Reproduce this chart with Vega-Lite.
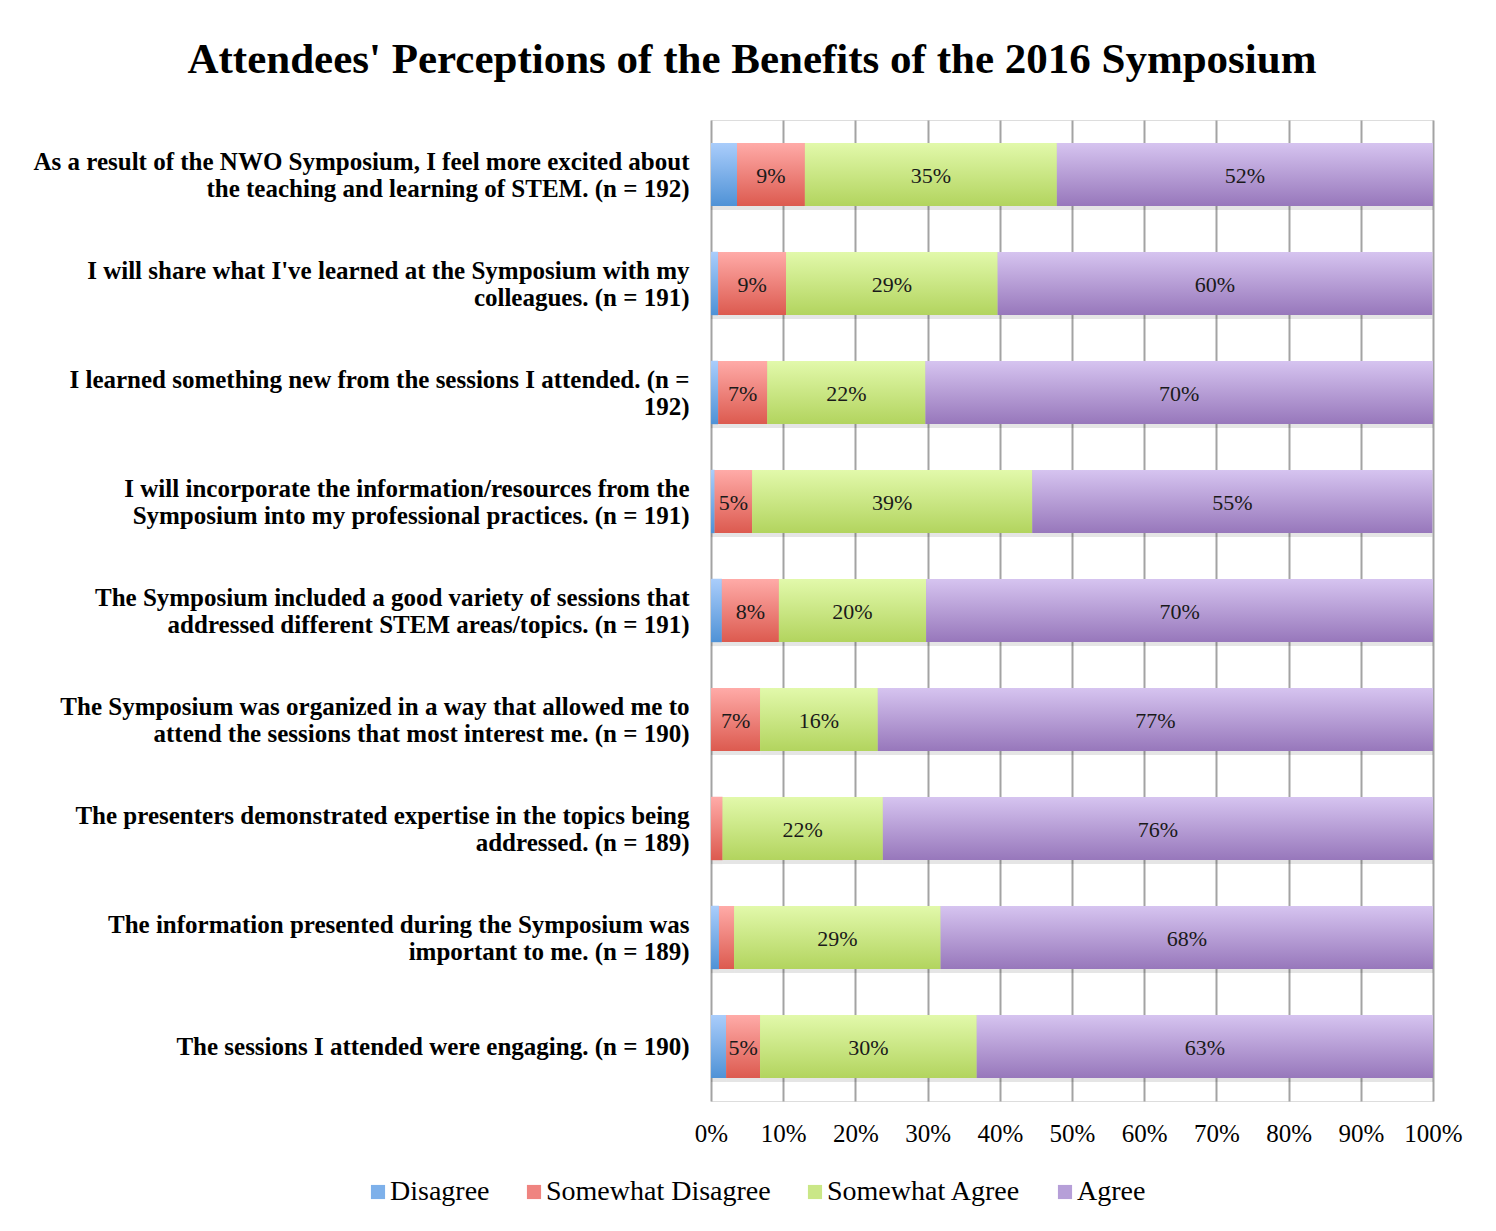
{
  "$schema": "https://vega.github.io/schema/vega-lite/v6.json",
  "autosize": {"type": "none"},
  "width": 722,
  "height": 981,
  "padding": {"left": 711, "top": 120, "right": 63, "bottom": 130},
  "background": "white",
  "title": {
    "text": "Attendees' Perceptions of the Benefits of the 2016 Symposium",
    "font": "Liberation Serif",
    "fontSize": 43,
    "fontWeight": "bold",
    "color": "black",
    "anchor": "middle",
    "dx": -320,
    "offset": 4,
    "baseline": "alphabetic"
  },
  "data": {
    "values": [
      {"q": "As a result of the NWO Symposium, I feel more excited about|the teaching and learning of STEM. (n = 192)", "response": "Disagree", "k": 1, "pct": 0.036},
      {"q": "As a result of the NWO Symposium, I feel more excited about|the teaching and learning of STEM. (n = 192)", "response": "Somewhat Disagree", "k": 2, "pct": 0.094},
      {"q": "As a result of the NWO Symposium, I feel more excited about|the teaching and learning of STEM. (n = 192)", "response": "Somewhat Agree", "k": 3, "pct": 0.349},
      {"q": "As a result of the NWO Symposium, I feel more excited about|the teaching and learning of STEM. (n = 192)", "response": "Agree", "k": 4, "pct": 0.521},
      {"q": "I will share what I've learned at the Symposium with my|colleagues. (n = 191)", "response": "Disagree", "k": 1, "pct": 0.010},
      {"q": "I will share what I've learned at the Symposium with my|colleagues. (n = 191)", "response": "Somewhat Disagree", "k": 2, "pct": 0.094},
      {"q": "I will share what I've learned at the Symposium with my|colleagues. (n = 191)", "response": "Somewhat Agree", "k": 3, "pct": 0.293},
      {"q": "I will share what I've learned at the Symposium with my|colleagues. (n = 191)", "response": "Agree", "k": 4, "pct": 0.602},
      {"q": "I learned something new from the sessions I attended. (n =|192)", "response": "Disagree", "k": 1, "pct": 0.010},
      {"q": "I learned something new from the sessions I attended. (n =|192)", "response": "Somewhat Disagree", "k": 2, "pct": 0.068},
      {"q": "I learned something new from the sessions I attended. (n =|192)", "response": "Somewhat Agree", "k": 3, "pct": 0.219},
      {"q": "I learned something new from the sessions I attended. (n =|192)", "response": "Agree", "k": 4, "pct": 0.703},
      {"q": "I will incorporate the information/resources from the|Symposium into my professional practices. (n = 191)", "response": "Disagree", "k": 1, "pct": 0.005},
      {"q": "I will incorporate the information/resources from the|Symposium into my professional practices. (n = 191)", "response": "Somewhat Disagree", "k": 2, "pct": 0.052},
      {"q": "I will incorporate the information/resources from the|Symposium into my professional practices. (n = 191)", "response": "Somewhat Agree", "k": 3, "pct": 0.388},
      {"q": "I will incorporate the information/resources from the|Symposium into my professional practices. (n = 191)", "response": "Agree", "k": 4, "pct": 0.554},
      {"q": "The Symposium included a good variety of sessions that|addressed different STEM areas/topics. (n = 191)", "response": "Disagree", "k": 1, "pct": 0.015},
      {"q": "The Symposium included a good variety of sessions that|addressed different STEM areas/topics. (n = 191)", "response": "Somewhat Disagree", "k": 2, "pct": 0.079},
      {"q": "The Symposium included a good variety of sessions that|addressed different STEM areas/topics. (n = 191)", "response": "Somewhat Agree", "k": 3, "pct": 0.204},
      {"q": "The Symposium included a good variety of sessions that|addressed different STEM areas/topics. (n = 191)", "response": "Agree", "k": 4, "pct": 0.702},
      {"q": "The Symposium was organized in a way that allowed me to|attend the sessions that most interest me. (n = 190)", "response": "Disagree", "k": 1, "pct": 0.0},
      {"q": "The Symposium was organized in a way that allowed me to|attend the sessions that most interest me. (n = 190)", "response": "Somewhat Disagree", "k": 2, "pct": 0.068},
      {"q": "The Symposium was organized in a way that allowed me to|attend the sessions that most interest me. (n = 190)", "response": "Somewhat Agree", "k": 3, "pct": 0.163},
      {"q": "The Symposium was organized in a way that allowed me to|attend the sessions that most interest me. (n = 190)", "response": "Agree", "k": 4, "pct": 0.769},
      {"q": "The presenters demonstrated expertise in the topics being|addressed. (n = 189)", "response": "Disagree", "k": 1, "pct": 0.0},
      {"q": "The presenters demonstrated expertise in the topics being|addressed. (n = 189)", "response": "Somewhat Disagree", "k": 2, "pct": 0.016},
      {"q": "The presenters demonstrated expertise in the topics being|addressed. (n = 189)", "response": "Somewhat Agree", "k": 3, "pct": 0.222},
      {"q": "The presenters demonstrated expertise in the topics being|addressed. (n = 189)", "response": "Agree", "k": 4, "pct": 0.762},
      {"q": "The information presented during the Symposium was|important to me. (n = 189)", "response": "Disagree", "k": 1, "pct": 0.011},
      {"q": "The information presented during the Symposium was|important to me. (n = 189)", "response": "Somewhat Disagree", "k": 2, "pct": 0.021},
      {"q": "The information presented during the Symposium was|important to me. (n = 189)", "response": "Somewhat Agree", "k": 3, "pct": 0.286},
      {"q": "The information presented during the Symposium was|important to me. (n = 189)", "response": "Agree", "k": 4, "pct": 0.682},
      {"q": "The sessions I attended were engaging. (n = 190)", "response": "Disagree", "k": 1, "pct": 0.021},
      {"q": "The sessions I attended were engaging. (n = 190)", "response": "Somewhat Disagree", "k": 2, "pct": 0.047},
      {"q": "The sessions I attended were engaging. (n = 190)", "response": "Somewhat Agree", "k": 3, "pct": 0.300},
      {"q": "The sessions I attended were engaging. (n = 190)", "response": "Agree", "k": 4, "pct": 0.632}
    ]
  },
  "transform": [
    {"stack": "pct", "groupby": ["q"], "sort": [{"field": "k", "order": "ascending"}], "as": ["x0", "x1"]},
    {"calculate": "(datum.x0 + datum.x1) / 2", "as": "xm"}
  ],
  "encoding": {
    "y": {
      "field": "q",
      "type": "nominal",
      "sort": null,
      "scale": {"paddingInner": 0.42, "paddingOuter": 0.21},
      "axis": {
        "title": null,
        "ticks": false,
        "domain": false,
        "grid": false,
        "labelPadding": 22,
        "labelFont": "Liberation Serif",
        "labelFontWeight": "bold",
        "labelFontSize": 25,
        "labelLineHeight": 27,
        "labelColor": "black",
        "labelLimit": 800,
        "labelOffset": {"condition": {"test": "indexof(datum.value, '|') >= 0", "value": -13}, "value": 0},
        "labelExpr": "split(datum.value, '|')"
      }
    }
  },
  "layer": [
    {
      "mark": {"type": "bar", "yOffset": 4, "color": "#000000", "opacity": 0.1},
      "encoding": {
        "x": {"field": "x0", "type": "quantitative"},
        "x2": {"field": "x1"}
      }
    },
    {
      "mark": {"type": "bar"},
      "encoding": {
        "x": {
          "field": "x0",
          "type": "quantitative",
          "scale": {"domain": [0, 1], "nice": false},
          "axis": {
            "title": null,
            "values": [0, 0.1, 0.2, 0.3, 0.4, 0.5, 0.6, 0.7, 0.8, 0.9, 1],
            "format": ".0%",
            "grid": true,
            "gridColor": "#a3a3a3",
            "gridWidth": 2,
            "ticks": false,
            "domain": false,
            "labelOverlap": false,
            "labelFlush": false,
            "labelPadding": 20,
            "labelFont": "Liberation Serif",
            "labelFontSize": 25,
            "labelColor": "black"
          }
        },
        "x2": {"field": "x1"},
        "color": {
          "field": "response",
          "type": "nominal",
          "scale": {
            "domain": ["Disagree", "Somewhat Disagree", "Somewhat Agree", "Agree"],
            "range": ["#7db0ea", "#ef8480", "#cae787", "#b69fd8"]
          },
          "legend": {
            "title": null,
            "orient": "none",
            "legendX": -347,
            "legendY": 1058,
            "direction": "horizontal",
            "columns": 4,
            "symbolType": "square",
            "symbolSize": 200,
            "symbolStrokeWidth": 0,
            "labelFont": "Liberation Serif",
            "labelFontSize": 28,
            "labelColor": "black",
            "labelLimit": 400,
            "labelOffset": -2,
            "columnPadding": 30
          }
        }
      }
    },
    {
      "mark": {"type": "bar"},
      "encoding": {
        "x": {"field": "x0", "type": "quantitative"},
        "x2": {"field": "x1"},
        "fill": {
          "condition": [
            {"test": "datum.response === 'Disagree'", "value": {"gradient": "linear", "x1": 0, "y1": 0, "x2": 0, "y2": 1, "stops": [{"offset": 0, "color": "#aacdfb"}, {"offset": 1, "color": "#4f92d6"}]}},
            {"test": "datum.response === 'Somewhat Disagree'", "value": {"gradient": "linear", "x1": 0, "y1": 0, "x2": 0, "y2": 1, "stops": [{"offset": 0, "color": "#ffaba8"}, {"offset": 1, "color": "#dc5a4f"}]}},
            {"test": "datum.response === 'Somewhat Agree'", "value": {"gradient": "linear", "x1": 0, "y1": 0, "x2": 0, "y2": 1, "stops": [{"offset": 0, "color": "#e2f9ab"}, {"offset": 1, "color": "#b2d45e"}]}}
          ],
          "value": {"gradient": "linear", "x1": 0, "y1": 0, "x2": 0, "y2": 1, "stops": [{"offset": 0, "color": "#d6c4f0"}, {"offset": 1, "color": "#9777bb"}]}
        }
      }
    },
    {
      "transform": [{"filter": "datum.pct >= 0.04"}],
      "mark": {"type": "text", "font": "Liberation Serif", "fontSize": 22, "color": "#1a1a1a", "baseline": "middle", "align": "center", "dy": 1},
      "encoding": {
        "x": {"field": "xm", "type": "quantitative"},
        "text": {"field": "pct", "type": "quantitative", "format": ".0%"}
      }
    }
  ]
}
